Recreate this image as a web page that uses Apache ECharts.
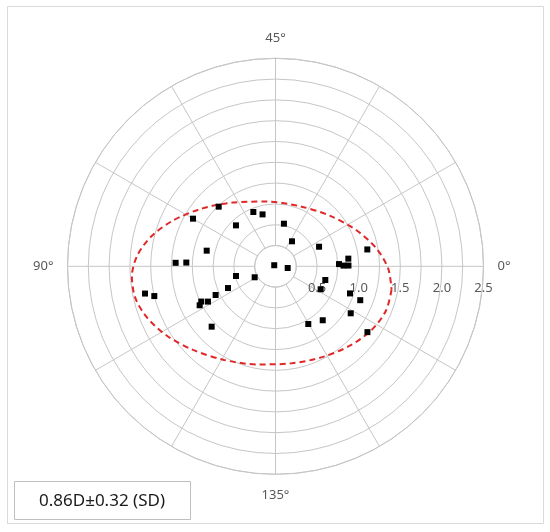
<!DOCTYPE html>
<html>
<head>
<meta charset="utf-8">
<script src="https://cdn.jsdelivr.net/npm/echarts@6/dist/echarts.min.js"></script>
<style>
  html, body { margin: 0; padding: 0; background: #fff; }
  #main { width: 550px; height: 532px; }
</style>
</head>
<body>
<div id="main"></div>
<script>
// astigmatism vectors (double angle plot): power in D, axis in degrees
var dotPower = [0.99, 0.705, 0.643, 1.145, 0.684, 0.522, 0.36, 0.574, 1.122, 0.848,
                1.201, 1.073, 0.880, 0.764, 0.817, 0.877, 0.02, 0.148, 0.489, 0.283,
                0.621, 0.609, 0.628, 0.798, 1.602, 1.50, 0.953, 1.097, 0.988, 0.916,
                1.025, 1.066, 0.862, 0.798, 1.056, 1.359];
var dotAxis  = [66.8, 56.1, 52.0, 75.0, 67.0, 39.4, 28.3, 12.1, 5.2, 83.6,
                89.0, 88.8, 3.0, 1.0, 0.3, 0.3, 70, 176.0, 96.9, 103.9,
                172.3, 166.5, 102.3, 102.8, 95.9, 96.9, 170.0, 169.1, 102.7, 103.8,
                103.6, 164.0, 155.6, 149.8, 111.7, 162.2];

// dashed ellipse
var ellipsePower = [1.423, 1.431, 1.387, 1.310, 1.229, 1.182, 1.199, 1.284, 1.412, 1.549,
                    1.662, 1.728, 1.730, 1.665, 1.534, 1.350, 1.134, 0.926, 0.786, 0.778,
                    0.895, 1.065, 1.230, 1.355];
var ellipseAxis  = [174.3, 169.1, 163.4, 156.7, 148.8, 139.6, 129.8, 120.6, 112.7, 106.3,
                    100.9, 96.3, 92.0, 87.7, 83.2, 78.0, 71.3, 62.1, 49.2, 34.2,
                    21.3, 12.0, 5.1, 179.4];

var angleLabels = [0, 45, 90, 135];
var ringLabels = [0.5, 1.0, 1.5, 2.0, 2.5];
var summary = '0.86D±0.32 (SD)';

var dots = dotPower.map(function (r, i) { return [r, dotAxis[i]]; });
var ellipse = ellipsePower.map(function (r, i) { return [r, ellipseAxis[i]]; });
ellipse.push(ellipse[0]);

var gridColor = '#c6c6c6';
var textColor = '#595959';
var font = 'Noto Sans';

var myChart = echarts.init(document.getElementById('main'));
myChart.setOption({
    backgroundColor: '#fff',
    animation: false,
    polar: {
        center: [275.5, 266.3],
        radius: [20.8, 208]
    },
    angleAxis: {
        type: 'value',
        min: 0,
        max: 180,
        interval: 15,
        startAngle: 0,
        clockwise: false,
        axisLine: { show: true, lineStyle: { color: gridColor, width: 1 } },
        axisTick: { show: false },
        splitLine: { show: true, lineStyle: { color: gridColor, width: 1 } },
        axisLabel: {
            margin: 14,
            color: textColor,
            fontSize: 13,
            fontFamily: font,
            formatter: function (v) {
                return angleLabels.indexOf(v) >= 0 ? v + '°' : '';
            }
        }
    },
    radiusAxis: {
        type: 'value',
        min: 0.25,
        max: 2.5,
        interval: 0.25,
        axisLine: { show: false },
        axisTick: { show: false },
        splitLine: { show: true, lineStyle: { color: gridColor, width: 1 } },
        axisLabel: {
            showMaxLabel: true,
            margin: -22,
            verticalAlign: 'middle',
            color: textColor,
            fontSize: 13,
            fontFamily: font,
            formatter: function (v) {
                for (var i = 0; i < ringLabels.length; i++) {
                    if (Math.abs(ringLabels[i] - v) < 1e-6) return ringLabels[i].toFixed(1);
                }
                return '';
            }
        }
    },
    series: [
        {
            type: 'line',
            coordinateSystem: 'polar',
            data: ellipse,
            clip: false,
            smooth: 0.3,
            symbol: 'none',
            lineStyle: { color: '#e02828', width: 2, type: [6, 4] },
            z: 3
        },
        {
            type: 'scatter',
            coordinateSystem: 'polar',
            data: dots,
            clip: false,
            symbol: 'rect',
            symbolSize: 6,
            itemStyle: { color: '#000', opacity: 1 },
            z: 4
        }
    ],
    graphic: [
        {
            type: 'rect',
            shape: { x: 7.5, y: 6.5, width: 536, height: 517 },
            style: { fill: 'none', stroke: '#d9d9d9', lineWidth: 1 },
            silent: true
        },
        {
            type: 'rect',
            shape: { x: 14.5, y: 481.5, width: 176, height: 38 },
            style: { fill: '#fff', stroke: '#bfbfbf', lineWidth: 1 },
            silent: true
        },
        {
            type: 'text',
            x: 102,
            y: 501,
            style: {
                text: summary,
                fontSize: 17,
                fontFamily: font,
                fill: '#1a1a1a',
                align: 'center',
                verticalAlign: 'middle'
            },
            silent: true
        }
    ]
});
</script>
</body>
</html>
